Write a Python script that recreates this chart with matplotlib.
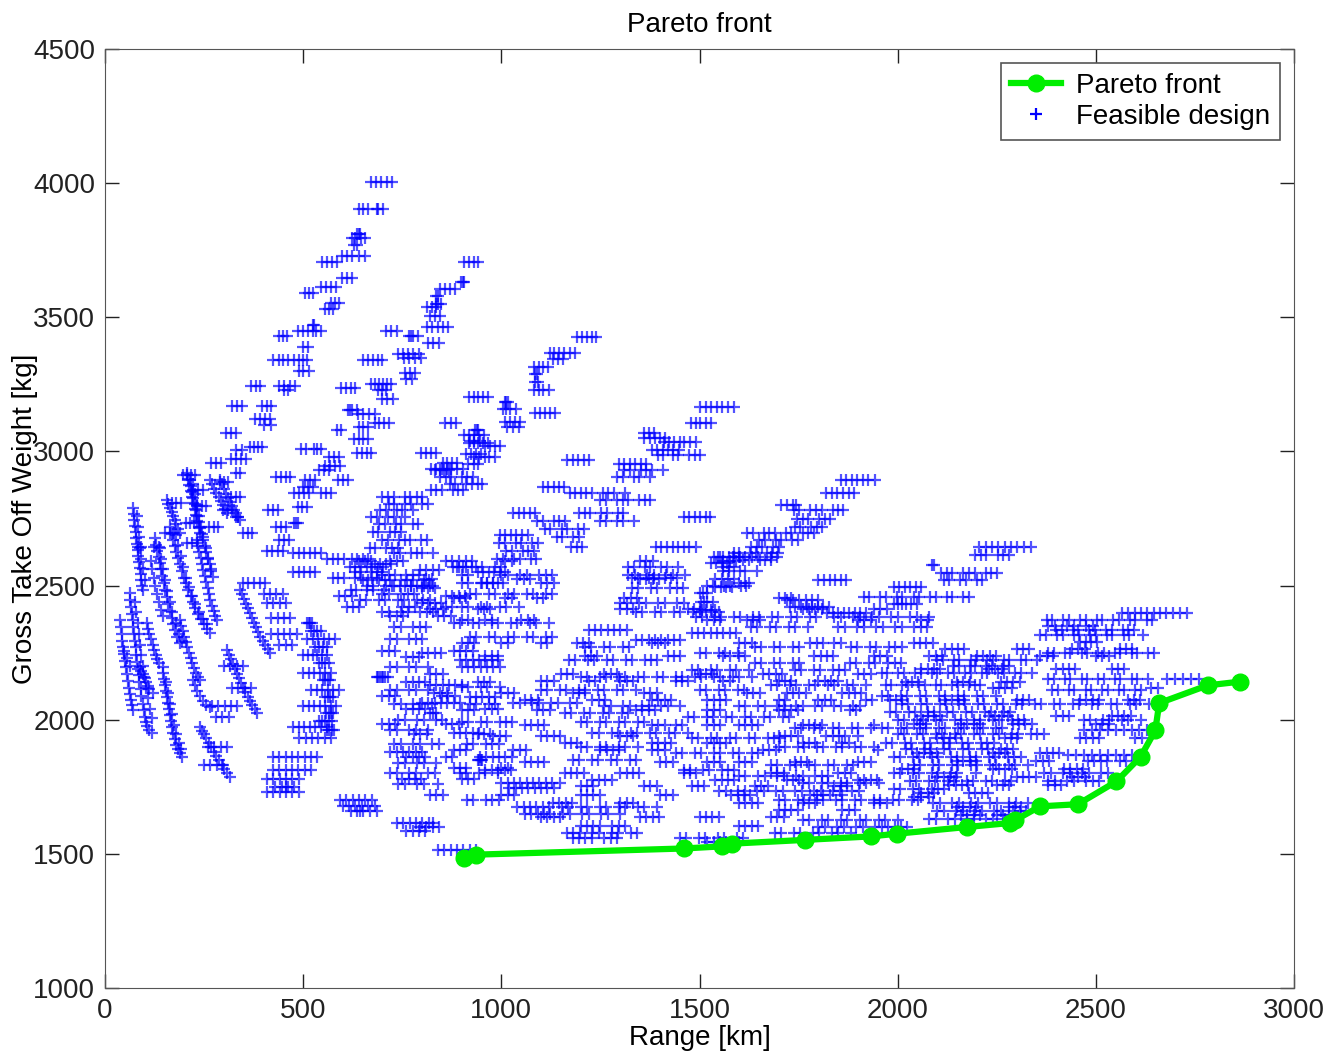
import numpy as np
import matplotlib
matplotlib.use("Agg")
import matplotlib.pyplot as plt

# Pareto front (Range [km], GTOW [kg])
pareto_x = [905, 935, 1461, 1557, 1582, 1766, 1932, 1998, 2174, 2284, 2296,
            2359, 2455, 2552, 2613, 2650, 2660, 2782, 2864]
pareto_y = [1485, 1497, 1520, 1528, 1538, 1552, 1565, 1575, 1600, 1615, 1625,
            1677, 1685, 1770, 1862, 1960, 2062, 2128, 2142]

# steep streaks at the far left: lists of (range, weight)
left_streaks = [
    [(71, 2789), (72, 2767), (74, 2745), (75, 2722), (77, 2700), (78, 2678), (80, 2655), (82, 2632),
     (84, 2610), (86, 2588), (88, 2565), (90, 2542), (92, 2520), (94, 2500), (96, 2484)],
    [(63, 2473), (64, 2446), (66, 2420), (68, 2395), (70, 2370), (71, 2345), (73, 2320), (75, 2295),
     (77, 2270), (79, 2242), (81, 2215), (83, 2190), (85, 2165), (87, 2140), (90, 2115), (92, 2088),
     (95, 2060), (98, 2035), (101, 2010), (104, 1992), (107, 1975), (112, 1962), (118, 1951)],
    [(38, 2372), (40, 2346), (42, 2320), (44, 2295), (46, 2270), (48, 2245), (50, 2220), (52, 2195),
     (55, 2170), (57, 2145), (60, 2120), (62, 2097), (65, 2075), (68, 2055), (71, 2036)],
    [(48, 2255), (55, 2230), (62, 2200)],
    [(126, 2677), (129, 2653), (132, 2630), (135, 2607), (138, 2585), (141, 2560), (145, 2535),
     (148, 2510), (152, 2485), (156, 2458), (160, 2430), (164, 2405), (168, 2380), (172, 2357),
     (176, 2335), (182, 2310), (189, 2286)],
    [(106, 2361), (109, 2340), (112, 2320), (116, 2300), (120, 2280), (124, 2260), (128, 2240),
     (132, 2225), (137, 2210), (146, 2197)],
    [(88, 2197), (92, 2183), (96, 2170), (100, 2155), (104, 2140), (108, 2127), (112, 2115), (121, 2100)],
    [(146, 2175), (148, 2152), (151, 2130), (153, 2107), (156, 2085), (158, 2062), (161, 2040),
     (163, 2017), (166, 1995), (169, 1972), (172, 1950), (176, 1927), (180, 1905), (184, 1890),
     (188, 1875), (194, 1861)],
    [(164, 2718), (168, 2694), (172, 2670), (176, 2648), (180, 2625), (185, 2602), (190, 2580),
     (195, 2555), (200, 2530), (205, 2508), (210, 2485), (216, 2462), (222, 2440), (228, 2418),
     (235, 2395), (242, 2375), (250, 2355), (258, 2338), (265, 2323)],
    [(189, 2372), (192, 2351), (196, 2330), (200, 2310), (204, 2290), (208, 2270), (212, 2250),
     (216, 2230), (220, 2210), (225, 2192), (230, 2175), (235, 2160), (240, 2148)],
    [(214, 2894), (217, 2872), (220, 2850), (223, 2828), (226, 2805), (230, 2782), (233, 2760),
     (236, 2738), (240, 2715), (244, 2692), (248, 2670), (252, 2648), (256, 2625), (260, 2602),
     (264, 2580), (268, 2556), (272, 2532)],
    [(232, 2670), (235, 2648), (238, 2625), (241, 2602), (245, 2580), (248, 2558), (252, 2535),
     (255, 2512), (259, 2490), (262, 2467), (266, 2445), (270, 2425), (274, 2405), (278, 2388),
     (282, 2372)],
    [(240, 1973), (245, 1959), (250, 1945), (256, 1930), (262, 1915), (268, 1898), (275, 1880),
     (281, 1865), (288, 1850), (294, 1832), (300, 1815), (307, 1800), (315, 1787)],
    [(308, 2260), (313, 2243), (318, 2225), (323, 2208), (328, 2190), (333, 2172), (338, 2155),
     (343, 2137), (349, 2120), (354, 2102), (360, 2085), (366, 2070), (372, 2055), (378, 2040),
     (384, 2025)],
    [(341, 2484), (345, 2467), (350, 2450), (355, 2432), (360, 2415), (365, 2397), (370, 2380),
     (375, 2362), (381, 2345), (386, 2327), (392, 2310), (398, 2295), (404, 2280), (410, 2264),
     (416, 2249)],
    [(290, 2894), (295, 2877), (300, 2860), (305, 2842), (310, 2825), (315, 2810), (320, 2795),
     (325, 2782), (330, 2770), (335, 2757), (341, 2744)],
    [(207, 2920), (210, 2897), (213, 2875), (216, 2852), (219, 2830), (222, 2807), (226, 2785),
     (229, 2762), (233, 2740), (236, 2718), (240, 2696)],
    [(265, 2894), (270, 2877), (275, 2860), (281, 2845), (287, 2830), (292, 2815), (298, 2800),
     (303, 2785), (308, 2771)],
    [(156, 2819), (160, 2805), (164, 2790), (168, 2775), (172, 2760), (176, 2744), (180, 2728),
     (184, 2712), (189, 2696)],
    [(115, 2590), (119, 2560), (123, 2530), (127, 2500), (131, 2470), (136, 2440), (141, 2410),
     (146, 2385)],
    [(222, 2148), (226, 2128), (232, 2108), (240, 2088), (248, 2068), (256, 2056), (265, 2048)],
    [(80, 2760), (83, 2720), (86, 2680), (89, 2640), (92, 2600), (96, 2560), (100, 2520)],
    [(76, 2440), (79, 2400), (82, 2360), (85, 2320), (88, 2280), (91, 2240), (95, 2200),
     (99, 2160), (103, 2120), (108, 2080), (113, 2040), (118, 2005)],
    [(138, 2640), (142, 2600), (147, 2560), (152, 2520), (157, 2480), (163, 2440), (170, 2400),
     (178, 2360), (186, 2320), (195, 2295)],
    [(155, 2140), (160, 2100), (165, 2060), (170, 2020), (175, 1980), (180, 1945), (186, 1915),
     (192, 1890)],
    [(180, 2690), (185, 2650), (191, 2610), (197, 2570), (204, 2530), (211, 2495), (219, 2460),
     (228, 2430), (238, 2400), (248, 2375), (258, 2355)],
    [(222, 2880), (227, 2840), (232, 2800), (237, 2760), (242, 2720), (248, 2680), (254, 2640),
     (260, 2600), (267, 2560)],
]

# horizontal runs of designs: (weight, [ranges])
ray1_runs = [
    (4005, [672, 684, 696, 712, 725]), (3902, [640, 652, 664, 686, 690, 702]),
    (3812, [636, 640, 644]), (3795, [622, 632, 645, 655]), (3770, [628, 636]),
    (3728, [598, 610, 622, 640, 655]), (3705, [548, 560, 572, 586]),
    (3645, [598, 610, 622]), (3612, [545, 558, 570, 584]), (3590, [505, 515, 525]),
    (3555, [570, 580, 590]), (3530, [556, 566, 575]), (3470, [525, 528]),
    (3450, [488, 500, 512, 524, 532, 545]), (3432, [440, 448, 458]), (3390, [500, 512]),
    (3342, [425, 438, 450, 462, 476, 490, 500, 510]), (3300, [490, 500, 515]),
    (3245, [368, 380, 392, 440, 452, 466, 480]), (3228, [452, 462]),
    (3168, [320, 332, 345, 395, 408, 420]), (3120, [378, 390, 404, 416]),
    (3100, [402, 418]), (3070, [305, 318, 330]), (3018, [365, 375, 385, 395]),
    (3005, [330, 345]), (2970, [318, 330, 342, 356]), (2958, [268, 280, 292]),
    (2920, [330, 340]), (2912, [198, 208, 218, 228]), (2885, [290, 300, 310]),
    (2856, [222, 234, 246]), (2830, [318, 330, 340]), (2808, [168, 180, 192]),
    (2795, [232, 244, 256]), (2782, [298, 310, 320]), (2756, [330, 336]),
    (2735, [205, 215, 225]), (2718, [262, 274, 286]),
    (2696, [152, 164, 174, 348, 360, 372]), (2660, [208, 220, 232]),
    (2645, [82, 92, 124, 136]),
]

ray2_runs = [
    (3708, [905, 918, 930, 942]), (3630, [898, 902, 906]), (3605, [845, 858, 870, 882]),
    (3580, [836, 840]), (3550, [836, 840, 848]), (3540, [812, 824, 836]),
    (3505, [820, 832, 845]), (3465, [812, 826, 840, 852, 865]), (3450, [708, 722, 736]),
    (3430, [768, 772, 776, 790]), (3405, [814, 828, 842]),
    (3365, [740, 752, 764, 778, 792]), (3350, [754, 768, 782, 798]),
    (3341, [652, 664, 676, 690, 700]), (3292, [756, 770, 782]), (3270, [760, 775]),
    (3250, [672, 682, 692, 702, 712, 722]), (3235, [595, 608, 620, 632]),
    (3230, [690, 700, 708]), (3195, [698, 712, 726]), (3155, [612, 618, 624, 636]),
    (3140, [638, 652, 666, 680]), (3105, [680, 692, 704, 716]), (3090, [640, 652, 664]),
    (3080, [585, 595]), (3045, [628, 640, 652, 664]), (3010, [494, 506, 528, 536, 544]),
    (2995, [636, 648, 660, 672]), (2980, [565, 577, 590]), (2944, [556, 568, 580, 592]),
    (2930, [540, 552, 564]), (2905, [432, 444, 456, 468]),
    (2893, [505, 518, 530, 588, 600, 612]), (2868, [500, 512, 524]),
    (2845, [478, 490, 502, 514, 545, 558, 570]), (2793, [486, 498, 510]),
    (2782, [412, 424, 436]), (2733, [478, 482, 486]), (2718, [432, 444, 456]),
    (2670, [440, 452, 464]),
    (3106, [858, 872, 886]), (3080, [934, 938, 942]), (3032, [918, 930, 942, 954, 966]),
    (2990, [912, 924, 936, 948]), (2994, [798, 810, 822, 834]),
    (2957, [852, 864, 876, 888]), (2931, [832, 844, 856, 868]),
]

ray3_runs = [
    (3428, [1192, 1204, 1216, 1228, 1240]), (3366, [1122, 1134, 1146, 1158, 1172, 1186]),
    (3345, [1130, 1142, 1156]), (3315, [1082, 1094, 1106, 1118]), (3290, [1084, 1090]),
    (3260, [1086, 1092]), (3230, [1082, 1094, 1106, 1120]),
    (3203, [918, 930, 942, 954, 966]), (3185, [1008, 1012, 1016]),
    (3160, [1004, 1012, 1022, 1036]), (3143, [1085, 1098, 1110, 1124, 1136]),
    (3110, [1010, 1022, 1034, 1046]), (3092, [1015, 1030, 1045]),
    (3060, [906, 918, 930, 944, 956]), (3040, [920, 932, 946]),
    (3020, [960, 972, 984, 996]), (2980, [930, 944, 958, 970, 984]),
    (2955, [915, 930, 942]), (2935, [822, 836, 850, 862, 874, 888, 902]),
    (2905, [846, 860, 874, 900, 914, 928]), (2880, [870, 884, 912, 926, 940, 952]),
    (2856, [822, 836, 850, 878, 890, 904]),
    (2830, [700, 714, 728, 756, 770, 786, 800]), (2805, [716, 730, 758, 772, 800, 814]),
    (2780, [694, 708, 736, 750, 778]), (2756, [672, 686, 714, 728, 756]),
    (2730, [692, 706, 734, 748, 776, 790]), (2700, [676, 690, 718, 732, 746]),
    (2670, [700, 714, 742, 756, 770, 798, 812]), (2640, [668, 682, 710, 724, 738]),
    (2620, [730, 744, 772, 786, 800, 828]), (2600, [622, 636, 650, 664]),
    (2580, [680, 694, 708, 722]), (2550, [630, 644, 672, 686, 700]),
    (2520, [650, 664, 692, 706, 720, 748, 762, 776, 804, 818]),
    (2500, [730, 744, 772, 786, 800, 828]), (2484, [620, 634, 662, 676, 704]),
]

ray4_runs = [
    (3166, [1502, 1516, 1530, 1544, 1558, 1572, 1586]), (3106, [1478, 1490, 1502, 1516, 1528]),
    (3069, [1360, 1372, 1384]), (3050, [1360, 1374, 1388, 1400, 1412]),
    (3035, [1410, 1424, 1436, 1450, 1462, 1476, 1490]),
    (3005, [1380, 1394, 1408, 1420, 1434, 1448]),
    (2985, [1395, 1408, 1434, 1446, 1474, 1488, 1500]),
    (2968, [1166, 1180, 1194, 1208, 1222]), (2955, [1296, 1310, 1324, 1338, 1352, 1366]),
    (2930, [1310, 1324, 1352, 1366, 1380, 1408]), (2905, [1292, 1306, 1334, 1348, 1376]),
    (2868, [1104, 1118, 1132, 1146, 1158]),
    (2845, [1172, 1186, 1200, 1214, 1228, 1256, 1270, 1284, 1312]),
    (2820, [1250, 1264, 1292, 1306, 1320, 1348, 1362, 1376]),
    (2771, [1030, 1044, 1058, 1072, 1086, 1196, 1210, 1224, 1252, 1266, 1294, 1308]),
    (2756, [1460, 1474, 1488, 1502, 1516, 1526]),
    (2740, [1090, 1104, 1132, 1146, 1160, 1250, 1264, 1292, 1306, 1334]),
    (2710, [1110, 1124, 1152, 1166, 1194, 1208]), (2690, [996, 1010, 1024, 1038, 1052, 1066]),
    (2680, [1140, 1154, 1182, 1196]), (2660, [994, 1008, 1036, 1050, 1078, 1092]),
    (2644, [1176, 1190, 1204, 1390, 1404, 1418, 1432, 1446, 1460, 1474, 1490]),
    (2630, [1012, 1026, 1054, 1068, 1082]), (2607, [1546, 1560, 1574, 1588, 1602, 1616]),
    (2600, [990, 1004, 1032, 1046, 1074, 1088]),
    (2570, [1320, 1334, 1362, 1376, 1404, 1418, 1446, 1560, 1574, 1588]),
    (2550, [940, 954, 968, 982, 996, 1010]),
    (2530, [1330, 1344, 1372, 1386, 1414, 1428, 1442]),
    (2510, [950, 964, 978, 992, 1004, 1600, 1614, 1626]), (2495, [1540, 1554, 1568, 1582]),
]

ray5_runs = [
    (2894, [1856, 1870, 1884, 1898, 1912, 1926, 1942]), (2845, [1820, 1834, 1848, 1862, 1876, 1890]),
    (2800, [1706, 1720, 1736, 1744]),
    (2780, [1738, 1752, 1780, 1794, 1808, 1836, 1850, 1862]),
    (2750, [1746, 1760, 1774, 1802, 1816, 1830]), (2720, [1740, 1754, 1782, 1796, 1810]),
    (2696, [1620, 1634, 1662, 1676, 1690, 1718, 1732, 1760, 1774, 1788]),
    (2670, [1650, 1664, 1692, 1706, 1734, 1748]), (2644, [1630, 1644, 1658, 1686, 1700]),
    (2620, [1586, 1600, 1628, 1642, 1670, 1684, 1698]), (2595, [1610, 1624, 1652, 1666, 1680]),
    (2584, [1528, 1542, 1556, 1570]), (2555, [1560, 1574, 1602, 1616, 1644]),
    (2521, [1800, 1814, 1828, 1842, 1856, 1870]),
    (2500, [1520, 1534, 1562, 1576, 1604, 1618]), (2472, [1502, 1510, 1518]),
    (2440, [1504, 1512, 1520, 1534]), (2410, [1506, 1516, 1528, 1540]),
]

ray6_runs = [
    (2644, [2206, 2222, 2238, 2254, 2270, 2286, 2302, 2318, 2336]),
    (2615, [2196, 2210, 2224, 2252, 2266, 2280]), (2577, [2086, 2092]),
    (2547, [2110, 2124, 2138, 2166, 2180, 2194, 2222, 2236, 2250]),
    (2520, [2116, 2130, 2158, 2172, 2200, 2214]),
    (2495, [1990, 2004, 2018, 2032, 2046, 2060]),
    (2458, [1914, 1928, 1956, 1970, 1998, 2012, 2040, 2054, 2082, 2096, 2124, 2138, 2166, 2180]),
    (2430, [1990, 2000, 2010, 2020, 2034, 2048]),
    (2420, [1728, 1742, 1756, 1770, 1784, 1798, 1812, 1826]),
    (2398, [1822, 1836, 1850, 1864, 1878, 1892, 1906, 1920]),
]

ray7_runs = [
    (2398, [2566, 2582, 2598, 2614, 2630, 2646, 2662, 2678, 2694, 2712, 2730]),
    (2372, [2376, 2390, 2418, 2432, 2460, 2474, 2502, 2516, 2544, 2558, 2586, 2600, 2628, 2642]),
    (2350, [2380, 2396, 2428, 2444, 2476, 2492]),
    (2335, [2400, 2414, 2442, 2456, 2484, 2498, 2526, 2540, 2568, 2582, 2596]),
    (2315, [2360, 2374, 2402, 2416, 2444, 2458, 2486, 2500, 2528, 2542, 2570, 2584, 2620]),
    (2290, [2460, 2474, 2488, 2502]),
]

right_runs = [
    (2249, [2380, 2394, 2422, 2436, 2464, 2478, 2506, 2520, 2548, 2562, 2590, 2604, 2632, 2646]),
    (2223, [2100, 2114, 2142, 2156, 2184, 2198, 2226, 2240, 2268, 2282, 2310, 2324, 2352]),
    (2200, [2140, 2154, 2182, 2196, 2224, 2238, 2266, 2280]),
    (2175, [1960, 1974, 2002, 2016, 2044, 2058, 2086, 2100, 2128, 2142, 2170, 2184, 2212,
            2226, 2254, 2268, 2296, 2310, 2338]),
    (2150, [2380, 2394, 2422, 2436, 2464, 2478, 2506, 2520, 2548, 2562, 2590, 2604, 2632,
            2680, 2700, 2720, 2740, 2760]),
    (2130, [1970, 1984, 2012, 2026, 2054, 2068, 2096, 2110, 2138, 2152, 2180, 2194, 2208]),
    (2110, [2390, 2404, 2432, 2446, 2474, 2488, 2516, 2530, 2558, 2572, 2600, 2614]),
    (2090, [1960, 1976, 2008, 2024, 2056, 2072, 2104, 2120, 2152, 2168, 2200, 2216, 2248]),
    (2060, [2010, 2026, 2058, 2074, 2106, 2122, 2154, 2170, 2202, 2218, 2250, 2266, 2298,
            2314, 2346, 2362, 2394, 2410, 2442, 2458, 2490, 2506, 2538, 2554, 2586, 2602, 2634]),
    (2030, [1980, 1996, 2028, 2044, 2076, 2092, 2124, 2140, 2172, 2188, 2220, 2236, 2268, 2284]),
    (2000, [2000, 2016, 2048, 2064, 2096, 2112, 2144, 2160, 2192, 2208, 2240, 2256, 2288,
            2304, 2320, 2470, 2486, 2518, 2534, 2566, 2582, 2614]),
    (1970, [1960, 1976, 2008, 2024, 2056, 2072, 2104, 2120, 2152, 2168, 2200, 2216, 2248, 2264]),
    (1960, [2470, 2490, 2510, 2530, 2550, 2570, 2590, 2610, 2630]),
    (1945, [2000, 2016, 2048, 2064, 2096, 2112, 2144, 2160, 2192, 2208, 2240, 2256, 2288,
            2304, 2336, 2352, 2368]),
    (1915, [1970, 1986, 2018, 2034, 2066, 2082, 2114, 2130, 2162, 2178, 2210, 2226, 2242]),
    (1890, [2020, 2036, 2068, 2084, 2116, 2132, 2164, 2180, 2212, 2228, 2260, 2276, 2292]),
    (1870, [2430, 2450, 2470, 2490, 2510, 2530, 2550, 2570, 2590, 2610]),
    (1860, [1990, 2006, 2038, 2054, 2086, 2102, 2134, 2150, 2182, 2198, 2230, 2246, 2278,
            2294, 2310]),
    (1830, [2040, 2056, 2088, 2104, 2136, 2152, 2184, 2200, 2232, 2248, 2280, 2296, 2328]),
    (1800, [1990, 2006, 2038, 2054, 2086, 2102, 2134, 2150, 2198, 2370, 2386, 2418, 2434,
            2466, 2482, 2514, 2530]),
    (1770, [2030, 2046, 2078, 2094, 2126, 2142, 2174, 2190, 2222, 2238, 2270, 2286, 2380,
            2396, 2428, 2444, 2476, 2492, 2508]),
    (1740, [1990, 2006, 2038, 2054, 2086, 2102, 2118]),
    (1712, [2040, 2060, 2080]),
    (1690, [2090, 2106, 2138, 2154, 2186, 2202, 2234, 2250, 2282, 2298, 2330]),
    (1660, [2100, 2116, 2148, 2164, 2196, 2212, 2244, 2260, 2292, 2308, 2324]),
    (1630, [2080, 2096, 2128, 2144, 2176, 2192, 2224, 2240, 2272]),
    (1600, [1960, 1976, 1992, 2008, 2024]),
    # in-between rows
    (2265, [2120, 2136, 2152, 2168, 2300, 2316, 2332, 2440, 2456, 2472, 2560, 2576, 2592]),
    (2238, [2080, 2096, 2112, 2200, 2216, 2232, 2248, 2360, 2376, 2392, 2500, 2516, 2532]),
    (2188, [2060, 2076, 2092, 2108, 2230, 2246, 2262, 2400, 2416, 2432, 2448, 2540, 2556, 2572]),
    (2140, [2020, 2036, 2052, 2150, 2166, 2182, 2260, 2276, 2292, 2308]),
    (2120, [2240, 2256, 2272, 2288, 2640, 2656]),
    (2075, [1980, 1996, 2012, 2120, 2136, 2152, 2168, 2300, 2316, 2332, 2460, 2476, 2492,
            2508, 2580, 2596, 2612]),
    (2015, [2060, 2076, 2092, 2108, 2230, 2246, 2262, 2278, 2400, 2416, 2432, 2540, 2556,
            2572, 2588]),
    (1985, [2040, 2056, 2072, 2160, 2176, 2192, 2208, 2290, 2306, 2322, 2338, 2500, 2516, 2532]),
    (1930, [2100, 2116, 2132, 2148, 2270, 2286, 2302, 2460, 2476, 2492, 2508, 2600, 2616]),
    (1875, [2050, 2066, 2082, 2098, 2240, 2256, 2272, 2360, 2376, 2392, 2408]),
    (1845, [2150, 2166, 2182, 2198, 2350, 2366, 2382, 2480, 2496, 2512, 2528, 2560, 2576]),
    (1815, [2010, 2026, 2042, 2240, 2256, 2272, 2288, 2420, 2436, 2452, 2468]),
    (1785, [2100, 2116, 2132, 2148, 2300, 2316, 2332, 2348, 2440, 2456, 2472]),
    (1755, [2130, 2146, 2162, 2178, 2250, 2266, 2282, 2380, 2396, 2412]),
    (1725, [2060, 2076, 2092, 2180, 2196, 2212, 2228]),
    (1675, [2150, 2166, 2182, 2198, 2280, 2296, 2312]),
    (1645, [2160, 2176, 2192, 2208, 2250, 2266, 2282]),
]

mid_runs = [
    (2607, [1536, 1552, 1584, 1600, 1632, 1648, 1680, 1696]),
    (2570, [888, 904, 936, 952, 984, 1000]), (2558, [795, 811, 827, 843]),
    (2540, [1000, 1016, 1048, 1064, 1096, 1112, 1128, 1320, 1336, 1368, 1384, 1416, 1432, 1464]),
    (2510, [900, 916, 948, 964, 980, 1100, 1116, 1132]),
    (2490, [800, 816, 832, 1330, 1346, 1378, 1394, 1426, 1442, 1458]),
    (2470, [920, 936, 968, 984, 1016, 1032, 1064, 1080, 1112, 1128]),
    (2446, [1720, 1736, 1752, 1768, 1784, 1800]),
    (2435, [800, 816, 832, 848, 1300, 1316, 1348, 1364, 1396, 1412, 1444, 1460]),
    (2420, [900, 916, 948, 964, 996, 1012, 1044]),
    (2400, [1340, 1356, 1388, 1404, 1436, 1452, 1484, 1500, 1532, 1548]),
    (2383, [1490, 1506, 1538, 1554, 1586, 1602, 1634, 1650, 1682, 1698, 1730, 1746, 1778,
            1794, 1840, 1856, 1888, 1904, 1936, 1952, 1984, 2000, 2032, 2048, 2080]),
    (2360, [880, 896, 928, 944, 976, 992, 1024, 1040, 1072, 1088, 1120]),
    (2346, [1630, 1646, 1678, 1694, 1726, 1742, 1774, 1850, 1866, 1898, 1914, 1946, 1962,
            1994, 2010, 2042, 2058, 2074]),
    (2335, [1220, 1236, 1252, 1268, 1284, 1300, 1316]),
    (2323, [1480, 1496, 1512, 1528, 1544, 1560, 1576, 1592]),
    (2310, [920, 936, 968, 984, 1016, 1032, 1064, 1080, 1112, 1128]),
    (2297, [1340, 1356, 1372, 1388, 1404, 1420, 1436, 1452]),
    (2271, [1210, 1226, 1258, 1274, 1306, 1322, 1640, 1656, 1688, 1704, 1736, 1752, 1882,
            1898, 1930, 1946, 1978, 1994, 2010]),
    (2250, [800, 816, 832, 848, 1500, 1516, 1548, 1564, 1596]),
    (2223, [1170, 1186, 1218, 1234, 1266, 1282, 1314, 1330, 1362, 1378, 1394]),
    (2212, [1640, 1656, 1688, 1704, 1736, 1752, 1880, 1896, 1928, 1944, 1976, 1992, 2008]),
    (2197, [900, 916, 932, 948, 964, 980, 996]),
    (2186, [1480, 1496, 1528, 1544, 1576, 1592, 1624, 1740, 1756, 1788, 1804, 1836, 1852, 1868]),
    (2160, [1200, 1216, 1248, 1264, 1296, 1312, 1344, 1360, 1392, 1408, 1440, 1456, 1488,
            1504, 1536, 1552, 1584, 1600, 1632]),
    (2130, [820, 836, 852, 868, 884, 900, 1680, 1696, 1728, 1744, 1776, 1792, 1824, 1840,
            1872, 1888, 1920]),
    (2110, [1100, 1116, 1148, 1164, 1196, 1212, 1244, 1260, 1292, 1308, 1340, 1500, 1516,
            1548, 1564, 1596, 1612]),
    (2085, [920, 936, 952, 968, 984]),
    (2063, [800, 816, 832, 848, 864, 880, 896, 1030, 1046, 1078, 1094, 1126, 1142, 1174, 1190]),
    (2050, [1260, 1276, 1308, 1324, 1356, 1372, 1404, 1420, 1452, 1600, 1616, 1648, 1664,
            1696, 1712, 1744, 1760, 1792, 1808, 1840, 1856, 1888, 1904]),
    (2025, [820, 828, 836, 1160, 1176, 1208, 1224, 1256, 1272, 1304, 1320]),
    (2010, [1470, 1486, 1518, 1534, 1566, 1582, 1614, 1630, 1662, 1678, 1710, 1726]),
    (1990, [900, 916, 948, 964, 996, 1012, 1028, 1200, 1216, 1248, 1264, 1296, 1312, 1344, 1360]),
    (1970, [1740, 1756, 1788, 1804, 1836, 1852, 1884, 1900, 1932]),
    (1951, [880, 896, 912, 928, 944, 1230, 1246, 1278, 1294, 1326, 1342, 1374, 1390, 1422,
            1438, 1470]),
    (1930, [1480, 1496, 1528, 1544, 1576, 1592, 1624, 1640, 1672, 1688, 1704]),
    (1900, [1200, 1216, 1248, 1264, 1296, 1312, 1344, 1700, 1716, 1748, 1764, 1796, 1812,
            1844, 1860, 1892, 1908, 1940]),
    (1876, [1440, 1456, 1488, 1504, 1536, 1552, 1584, 1600, 1632, 1648]),
    (1861, [946, 962, 978, 994, 1010, 1026]),
    (1850, [1180, 1196, 1228, 1244, 1276, 1292, 1324, 1340]),
    (1830, [1680, 1696, 1728, 1744, 1776, 1792, 1824, 1840, 1872, 1888]),
    (1813, [960, 976, 992, 1008, 1024, 1460, 1476, 1508, 1524, 1556, 1572, 1588]),
    (1790, [1600, 1616, 1648, 1664, 1696, 1712, 1744, 1760, 1792, 1808, 1824]),
    (1764, [1000, 1016, 1032, 1048, 1064, 1080, 1096, 1112, 1128, 1148, 1760, 1776, 1808,
            1824, 1856, 1872, 1904, 1920, 1952]),
    (1745, [1020, 1036, 1052, 1068, 1084, 1100, 1116, 1132]),
    (1735, [1550, 1566, 1598, 1614, 1646, 1662, 1694, 1710, 1742, 1758, 1790, 1806, 1838,
            1854, 1886, 1902]),
    (1701, [1700, 1716, 1748, 1764, 1796, 1812, 1844, 1860, 1892, 1908, 1940, 1956, 1988,
            2004, 2036, 2052]),
    (1675, [1040, 1056, 1072, 1088, 1104, 1120, 1152, 1168, 1200, 1216, 1248, 1264, 1296,
            1312, 1344, 1360, 1392]),
    (1650, [1060, 1076, 1092, 1108, 1124, 1156, 1172, 1204, 1220, 1252, 1268, 1300]),
    (1627, [1760, 1776, 1808, 1824, 1856, 1872, 1904, 1920, 1952, 1968, 2000]),
    (1600, [795, 811, 827, 843, 1800, 1816, 1848, 1864, 1896, 1912, 1944]),
    (1578, [1166, 1182, 1198, 1230, 1246, 1278, 1294, 1326, 1342, 1690, 1706, 1738, 1754,
            1786, 1802, 1834, 1850, 1882]),
    (1560, [1180, 1196, 1212, 1228, 1260, 1276, 1292, 1450, 1466, 1498, 1514, 1546, 1562,
            1594, 1610]),
    (1545, [1520, 1536, 1552, 1568, 1584, 1600]),
    (1515, [840, 856, 872, 888, 904, 920, 936]),
    # in-between rows
    (2590, [910, 926, 1010, 1026, 1350, 1366, 1382, 1560, 1576, 1592]),
    (2525, [810, 826, 1040, 1056, 1072, 1350, 1366, 1382, 1398, 1540, 1556, 1572, 1588]),
    (2455, [880, 896, 912, 1010, 1026, 1090, 1106, 1310, 1326, 1342, 1700, 1716, 1732]),
    (2412, [820, 836, 852, 940, 956, 972, 1300, 1316, 1332, 1470, 1486, 1502, 1760, 1776,
            1792, 1808, 1940, 1956, 1972]),
    (2370, [900, 916, 960, 976, 1050, 1066, 1082, 1520, 1536, 1552, 1620, 1636, 1652, 1900,
            1916, 1932, 2060, 2076]),
    (2285, [900, 916, 932, 1000, 1016, 1100, 1116, 1190, 1206, 1222, 1380, 1396, 1412, 1600,
            1616, 1632, 1780, 1796, 1812, 1840, 1856, 2040, 2056, 2072, 2088]),
    (2238, [960, 976, 992, 1210, 1226, 1242, 1420, 1436, 1452, 1560, 1576, 1600, 1616, 1790,
            1806, 1822, 1838, 1940, 1956, 1972]),
    (2172, [820, 836, 852, 1150, 1166, 1182, 1260, 1276, 1292, 1500, 1516, 1532, 1660, 1676,
            1692, 1708, 1900, 1916, 1932]),
    (2145, [1100, 1116, 1132, 1220, 1236, 1300, 1316, 1332, 1440, 1456, 1472, 1560, 1576,
            1700, 1716, 1732, 1800, 1816, 1832, 1850]),
    (2098, [830, 846, 862, 1000, 1016, 1032, 1180, 1196, 1212, 1360, 1376, 1392, 1620, 1636,
            1652, 1720, 1736, 1752, 1768, 1860, 1876, 1892, 1908]),
    (2075, [1060, 1076, 1092, 1230, 1246, 1262, 1380, 1396, 1412, 1428, 1520, 1536, 1552,
            1568, 1700, 1716, 1800, 1816, 1832, 1920, 1936]),
    (2038, [900, 916, 932, 1090, 1106, 1122, 1340, 1356, 1372, 1388, 1520, 1536, 1552, 1700,
            1716, 1732, 1748, 1880, 1896]),
    (1982, [1060, 1076, 1092, 1108, 1380, 1396, 1412, 1440, 1456, 1520, 1536, 1552, 1600,
            1616, 1632, 1648, 1760, 1776, 1792, 1808, 1940]),
    (1940, [980, 996, 1012, 1100, 1116, 1132, 1148, 1300, 1316, 1332, 1700, 1716, 1732, 1748,
            1820, 1836, 1852, 1868, 1900]),
    (1915, [1160, 1176, 1192, 1380, 1396, 1412, 1428, 1520, 1536, 1552, 1568, 1760, 1776,
            1792, 1860, 1876]),
    (1888, [880, 896, 912, 1030, 1046, 1062, 1250, 1266, 1282, 1298, 1380, 1396, 1412, 1660,
            1676, 1692, 1950]),
    (1842, [1060, 1076, 1092, 1108, 1400, 1416, 1432, 1520, 1536, 1552, 1600, 1616, 1632,
            1740, 1756, 1772, 1900, 1916, 1932]),
    (1800, [1160, 1176, 1192, 1208, 1300, 1316, 1332, 1348, 1460, 1476, 1492, 1680, 1696,
            1712, 1850, 1866, 1882]),
    (1777, [1230, 1246, 1262, 1278, 1540, 1556, 1572, 1588, 1720, 1736, 1752, 1900, 1916,
            1932, 1948]),
    (1752, [1200, 1216, 1232, 1360, 1376, 1392, 1480, 1496, 1512, 1640, 1656, 1672, 1840,
            1856, 1872]),
    (1718, [1000, 1016, 1032, 1200, 1216, 1232, 1248, 1400, 1416, 1432, 1580, 1596, 1612,
            1628, 1780, 1796, 1812, 1828, 1860]),
    (1688, [1130, 1146, 1162, 1178, 1300, 1316, 1332, 1600, 1616, 1632, 1648, 1760, 1776,
            1792, 1940, 1956, 1972]),
    (1662, [1700, 1716, 1732, 1748, 1860, 1876, 1892]),
    (1638, [1100, 1116, 1132, 1148, 1350, 1366, 1382, 1398, 1500, 1516, 1532, 1548, 1680,
            1696, 1712]),
    (1605, [1200, 1216, 1232, 1248, 1280, 1296, 1312, 1600, 1616, 1632, 1648]),
]

left_runs = [
    (2630, [408, 422, 436, 450]), (2622, [475, 489, 503, 517, 531, 545]),
    (2600, [560, 574, 588, 602]), (2570, [618, 632, 646, 660, 674, 688, 702, 878, 894, 910, 926]),
    (2550, [475, 489, 503, 517, 531]), (2530, [575, 589, 603, 631, 645, 673, 687]),
    (2510, [348, 362, 376, 390, 404]), (2500, [660, 676, 708, 724, 756, 772, 804, 820]),
    (2470, [400, 416, 432, 448, 700, 716, 748, 764, 780]),
    (2446, [643, 659, 691, 707, 739, 755, 787, 803, 819]), (2435, [409, 425, 441, 457]),
    (2400, [700, 716, 748, 764, 796, 812, 828]), (2380, [420, 436, 452, 468]),
    (2361, [510, 514, 518, 522]), (2345, [730, 746, 778, 794, 810]),
    (2330, [520, 528, 536, 544]), (2320, [420, 436, 452, 468, 484]),
    (2300, [510, 524, 538, 552, 566, 580, 720, 736, 768, 784, 800]),
    (2280, [440, 456, 472]), (2270, [530, 540, 550, 560]),
    (2240, [500, 512, 524, 536, 548, 560]), (2223, [896, 912, 928, 944, 960, 976, 992]),
    (2210, [540, 548, 556, 564]), (2200, [300, 316, 332, 348]),
    (2197, [720, 736, 768, 784, 816]), (2175, [500, 514, 528, 542, 556, 570]),
    (2160, [686, 690, 694, 698, 702, 706, 714]), (2148, [550, 556, 562, 568]),
    (2122, [900, 916, 948, 964, 996]), (2120, [320, 336, 352, 368]),
    (2110, [520, 534, 548, 562, 576, 590, 720, 736, 768, 784, 816]),
    (2085, [556, 562, 568, 574]),
    (2060, [730, 746, 778, 794, 826, 920, 936, 968, 984]),
    (2050, [270, 286, 302, 318, 334, 500, 514, 528, 542, 556, 570, 584]),
    (2025, [558, 564, 570, 576]), (2010, [280, 296, 312]),
    (2000, [740, 756, 788, 804, 836, 850]), (1995, [540, 548, 556, 564, 572]),
    (1973, [475, 489, 503, 517, 531, 545, 559]),
    (1960, [560, 566, 572, 578, 720, 736, 768, 784, 816]),
    (1930, [490, 506, 522, 538, 554, 570]),
    (1910, [730, 746, 778, 794, 826, 842, 913, 929, 961, 977, 993]),
    (1900, [260, 276, 292, 308]), (1880, [720, 736, 752, 768, 784, 800]),
    (1861, [424, 440, 456, 472, 488, 504, 520, 535]), (1850, [940, 944, 948, 952]),
    (1840, [740, 756, 788, 804, 836]), (1830, [250, 266, 282, 298]),
    (1813, [424, 440, 456, 472, 488, 504, 520]),
    (1800, [720, 736, 768, 784, 816, 832, 896, 912, 944, 960, 992]),
    (1780, [409, 425, 441, 457, 473, 489]), (1760, [740, 756, 788, 804, 840]),
    (1750, [430, 446, 456, 462, 478]), (1730, [409, 425, 441, 457, 473, 489]),
    (1701, [593, 609, 625, 641, 657, 673, 913, 929, 961, 977, 993]),
    (1680, [600, 616, 632, 648, 664, 680]), (1660, [620, 636, 644, 652, 668, 686]),
    (1615, [737, 753, 769, 785, 801, 817, 828]), (1585, [760, 776, 792, 808]),
    # in-between rows
    (2590, [640, 656, 672, 720, 736, 752, 860, 876, 892]),
    (2540, [700, 716, 732, 760, 776, 792, 900, 916]),
    (2460, [590, 606, 622, 860, 876, 892, 908]),
    (2420, [610, 626, 642, 750, 766, 782, 860, 876]),
    (2385, [720, 736, 752, 840, 856, 872]),
    (2255, [700, 716, 732, 880, 896, 912, 928]),
    (2235, [760, 776, 792]),
    (2140, [760, 776, 792, 808, 940, 956, 972]),
    (2090, [700, 716, 732, 850, 866, 882]),
    (2040, [760, 776, 792, 808, 960, 976, 992]),
    (1985, [700, 716, 732, 860, 876, 892]),
    (1945, [780, 796, 812, 940, 956, 972]),
    (1860, [760, 776, 792, 808, 860, 876]),
    (1820, [880, 896, 912, 1000, 1016]),
    (1780, [750, 766, 782, 798, 900, 916, 932]),
    (1720, [820, 836, 852]),
]

# flatten everything into the feasible designs
feas_x, feas_y = [], []
for streak in left_streaks:
    for x, y in streak:
        feas_x.append(x)
        feas_y.append(y)
for runs in [ray1_runs, ray2_runs, ray3_runs, ray4_runs, ray5_runs, ray6_runs,
             ray7_runs, right_runs, mid_runs, left_runs]:
    for y, xs in runs:
        feas_x.extend(xs)
        feas_y.extend([y] * len(xs))

plt.rcParams['font.family'] = ['Liberation Sans', 'DejaVu Sans']
plt.rcParams['font.size'] = 20

fig = plt.figure(figsize=(13.31, 10.57), dpi=100)
ax = fig.add_axes([0.0789, 0.0653, 0.8933, 0.8883])

feas, = ax.plot(feas_x, feas_y, linestyle='none', marker='+', color='#0000ff',
                markersize=8.5, markeredgewidth=1.6, alpha=0.68, zorder=2,
                label='Feasible design')
par, = ax.plot(pareto_x, pareto_y, color='#00ee00', linewidth=4.5, marker='o',
               markersize=12, markerfacecolor='#00ee00', markeredgecolor='#00ee00',
               zorder=3, label='Pareto front')

ax.set_xlim(0, 3000)
ax.set_ylim(1000, 4500)
ax.set_xticks(np.arange(0, 3001, 500))
ax.set_yticks(np.arange(1000, 4501, 500))
ax.tick_params(direction='in', length=10, width=1, top=True, right=True, pad=7,
               labelsize=20, colors='#222222')
for sp in ax.spines.values():
    sp.set_color('#555555')

ax.set_title('Pareto front', fontsize=20, pad=12)
ax.set_xlabel('Range [km]', fontsize=20, labelpad=1)
ax.set_ylabel('Gross Take Off Weight [kg]', fontsize=20)
ax.yaxis.set_label_coords(-0.056, 0.5)

leg = ax.legend(handles=[par, feas], loc='upper right', fontsize=20, fancybox=False,
                edgecolor='#555555', framealpha=1, borderaxespad=0.5,
                handlelength=1.8, handletextpad=0.55, borderpad=0.35, labelspacing=0.2)
leg.get_frame().set_linewidth(1.2)
for h in leg.legend_handles:
    h.set_alpha(1)

fig.savefig('out.png', dpi=100)
